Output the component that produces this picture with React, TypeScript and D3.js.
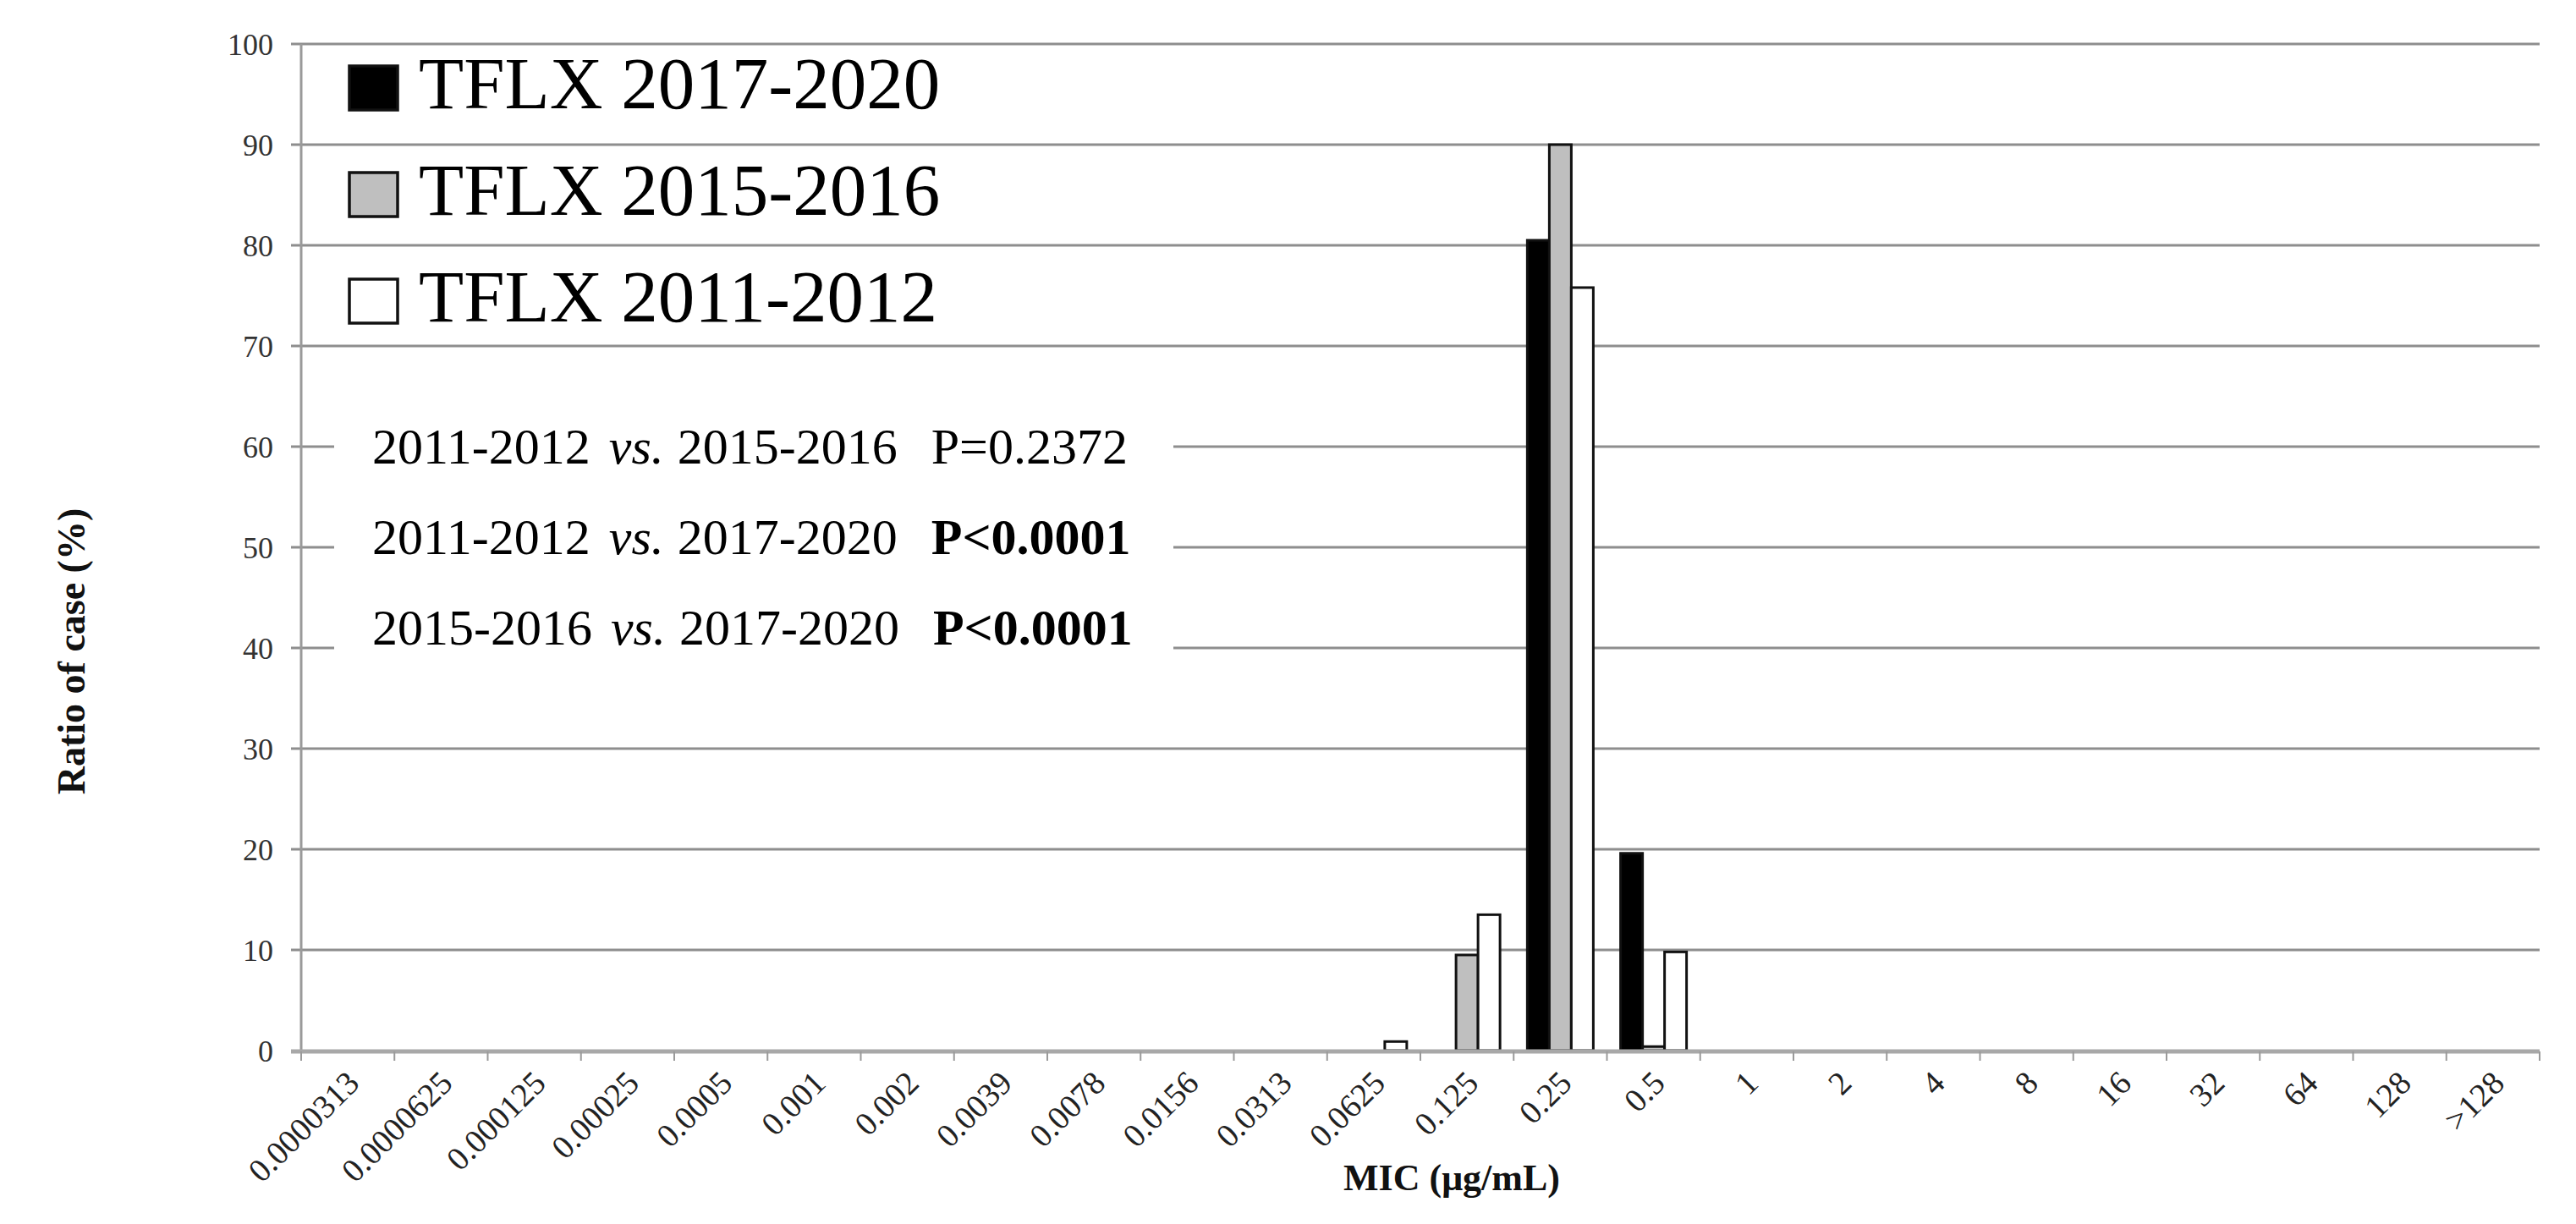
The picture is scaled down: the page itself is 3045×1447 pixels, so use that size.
import React from "react";
import * as d3 from "d3";

const categories = [
  "0.0000313", "0.0000625", "0.000125", "0.00025", "0.0005", "0.001", "0.002",
  "0.0039", "0.0078", "0.0156", "0.0313", "0.0625", "0.125", "0.25", "0.5",
  "1", "2", "4", "8", "16", "32", "64", "128", ">128",
];
const seriesNames = ["TFLX 2017-2020", "TFLX 2015-2016", "TFLX 2011-2012"];
const tflx2017_2020 = [0,0,0,0,0,0,0,0,0,0,0,0,0,80.5,19.6,0,0,0,0,0,0,0,0,0];
const tflx2015_2016 = [0,0,0,0,0,0,0,0,0,0,0,0,9.5,90.0,0.4,0,0,0,0,0,0,0,0,0];
const tflx2011_2012 = [0,0,0,0,0,0,0,0,0,0,0,0.9,13.5,75.8,9.8,0,0,0,0,0,0,0,0,0];
const yTicks = [0, 10, 20, 30, 40, 50, 60, 70, 80, 90, 100];
const stats = [
  { a: "2011-2012", b: "2015-2016", p: "P=0.2372", bold: false },
  { a: "2011-2012", b: "2017-2020", p: "P<0.0001", bold: true },
  { a: "2015-2016", b: "2017-2020", p: "P<0.0001", bold: true },
];

const fills = ["#000000", "#bfbfbf", "#ffffff"];
const W = 3045;
const H = 1447;
const FONT = "'Liberation Serif', 'Times New Roman', serif";

export default function App() {
  const x = d3.scaleBand<string>().domain(categories).range([356, 3002]).padding(0);
  const xs = d3.scaleBand<string>().domain(seriesNames).range([0, x.bandwidth()]).paddingInner(0).paddingOuter(0.62);
  const y = d3.scaleLinear().domain([0, 100]).range([1242, 52]);
  const seriesData = [tflx2017_2020, tflx2015_2016, tflx2011_2012];
  const boundaries = d3.range(categories.length + 1).map((i) => 356 + i * x.step());

  return (
    <svg width={W} height={H} style={{ position: "absolute", left: 0, top: 0, background: "#fff" }} fontFamily={FONT}>
      <rect x={0} y={0} width={W} height={H} fill="#fff" />
      {/* gridlines */}
      {yTicks.filter((t) => t > 0).map((t) => (
        <line key={t} x1={344} x2={3002} y1={y(t)} y2={y(t)} stroke="#8e8e8e" strokeWidth={3} />
      ))}
      {/* stats background */}
      <rect x={395} y={485} width={992} height={315} fill="#fff" />
      {/* y axis */}
      <line x1={356} x2={356} y1={y(100)} y2={y(0)} stroke="#9a9a9a" strokeWidth={3} />
      {yTicks.map((t) => (
        <text key={t} x={323} y={y(t)} dy="0.35em" textAnchor="end" fontSize={36} fill="#333">{t}</text>
      ))}
      {/* bars */}
      {seriesData.map((vals, si) => (
        <g key={si}>
          {vals.map((v, ci) =>
            v > 0 ? (
              <rect
                key={ci}
                x={(x(categories[ci]) as number) + (xs(seriesNames[si]) as number)}
                y={y(v)}
                width={xs.bandwidth()}
                height={y(0) - y(v)}
                fill={fills[si]}
                stroke="#111"
                strokeWidth={3}
              />
            ) : null
          )}
        </g>
      ))}
      {/* x axis */}
      <line x1={344} x2={3002} y1={1243} y2={1243} stroke="#a8a8a8" strokeWidth={5} />
      {boundaries.map((bx, i) => (
        <line key={i} x1={bx} x2={bx} y1={1243} y2={1254} stroke="#9a9a9a" strokeWidth={2} />
      ))}
      {categories.map((c) => {
        const cx = (x(c) as number) + x.bandwidth() / 2 + 6;
        const cy = 1273;
        return (
          <text key={c} x={cx} y={cy} textAnchor="end" fontSize={39} fill="#222" dy="0.35em"
            transform={`rotate(-45, ${cx}, ${cy})`}>{c}</text>
        );
      })}
      {/* axis titles */}
      <text x={1716} y={1407} textAnchor="middle" fontSize={44} fontWeight="bold" fill="#111">MIC (μg/mL)</text>
      <text x={100} y={770} textAnchor="middle" fontSize={46} fontWeight="bold" fill="#111"
        transform="rotate(-90, 100, 770)">Ratio of case (%)</text>
      {/* legend */}
      {seriesNames.map((s, i) => {
        const base = 128 + i * 126;
        return (
          <g key={s}>
            <rect x={413} y={base - 50} width={57} height={52} fill={fills[i]} stroke="#111" strokeWidth={3.5} />
            <text x={495} y={base} fontSize={87} fill="#000">{s}</text>
          </g>
        );
      })}
      {/* stats */}
      {stats.map((s, i) => (
        <text key={i} x={440} y={548 + i * 107} fontSize={60} fill="#000">
          <tspan>{s.a}</tspan>
          <tspan dx={22} fontStyle="italic">vs.</tspan>
          <tspan dx={16}>{s.b}</tspan>
          <tspan dx={40} fontWeight={s.bold ? "bold" : "normal"}>{s.p}</tspan>
        </text>
      ))}
    </svg>
  );
}
